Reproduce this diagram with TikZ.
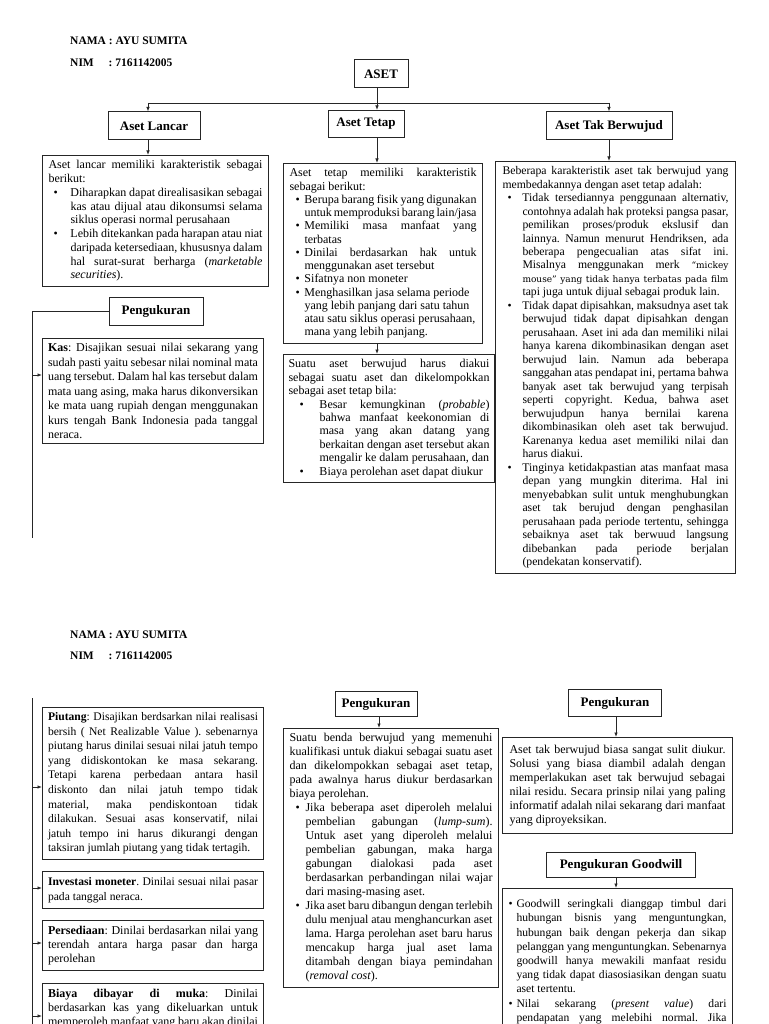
\documentclass[tikz,border=0pt]{standalone}
\usepackage{fontspec}
\setmainfont{Liberation Serif}
\newfontfamily\mkfont{DejaVu Serif}
\usetikzlibrary{arrows.meta}
\hyphenpenalty=10000
\exhyphenpenalty=10000
\tolerance=10000
\hbadness=10000
\frenchspacing
\newcommand\bitem[2]{\par\hangindent=#1\hangafter=0\noindent\llap{\makebox[\dimexpr#1-#2\relax][l]{\textbullet}}\ignorespaces}
\newcommand\mk{\mkfont\fontsize{9}{13.48}\selectfont}
\newcommand\fs[2]{\fontsize{#1}{#2}\selectfont\spaceskip=.25em plus .3em minus .09em\relax}
\tikzset{
  tb/.style={draw=black!85, line width=1pt, anchor=north west, inner xsep=6pt, inner ysep=5pt, align=justify, font=\fs{12}{14}},
  hd/.style={draw=black!85, line width=1pt, inner sep=0pt, font=\fontsize{13}{15}\selectfont\bfseries},
  lbl/.style={anchor=west, inner sep=0pt, font=\fontsize{11.5}{13}\selectfont\bfseries},
  ln/.style={line width=0.8pt, draw=black!85},
  ar/.style={ln, -{Latex[length=4.5pt,width=3.5pt]}}
}
\begin{document}
\begin{tikzpicture}[x=1pt,y=-1pt]
\useasboundingbox (0,0) rectangle (768,1024);
\clip (0,0) rectangle (768,1024);
\fill[white] (0,0) rectangle (768,1024);

% ---------- page 1 ----------
\node[lbl] (nama1) at (70,41) {NAMA : AYU SUMITA};
\node[lbl] (nim1) at (70,63) {NIM};
\node[lbl] (nimv1) at (108.5,63) {: 7161142005};

\node[hd, minimum width=54pt, minimum height=28pt] (aset) at (381,74) {ASET};
\node[hd, minimum width=92pt, minimum height=28pt] (hlancar) at (154,126) {Aset Lancar};
\node[hd, minimum width=76pt, minimum height=27pt] (htetap) at (366,124) {Aset Tetap};
\node[hd, minimum width=126pt, minimum height=28pt] (htakb) at (609,126) {Aset Tak Berwujud};

\coordinate (jm) at (377,103);
\coordinate (jl) at (148,103);
\coordinate (jr) at (609,103);
\draw[ln] (jl) -- (jr);
\draw[ar] (jm |- aset.south) -- (jm |- htetap.north);
\draw[ar] (jl) -- (jl |- hlancar.north);
\draw[ar] (jr) -- (jr |- htakb.north);

\node[tb, text width=214pt, font=\fs{12}{13.75}] (lancar) at (42,155) {Aset lancar memiliki karakteristik sebagai\linebreak berikut:%
\bitem{22pt}{5pt}Diharapkan dapat direalisasikan sebagai\linebreak kas atau dijual atau dikonsumsi selama\linebreak siklus operasi normal perusahaan%
\bitem{22pt}{5pt}Lebih ditekankan pada harapan atau niat\linebreak daripada ketersediaan, khususnya dalam\linebreak hal surat-surat berharga (\textit{marketable\linebreak securities}).\par};

\node[tb, text width=187pt, font=\fs{12}{13.25}] (tetap1) at (283,163) {Aset tetap memiliki karakteristik\linebreak sebagai berikut:%
\bitem{15pt}{6pt}Berupa barang fisik yang digunakan\linebreak untuk memproduksi barang lain/jasa%
\bitem{15pt}{6pt}Memiliki masa manfaat yang\linebreak terbatas%
\bitem{15pt}{6pt}Dinilai berdasarkan hak untuk\linebreak menggunakan aset tersebut%
\bitem{15pt}{6pt}Sifatnya non moneter%
\bitem{15pt}{6pt}Menghasilkan jasa selama periode\\yang lebih panjang dari satu tahun\\atau satu siklus operasi perusahaan,\\mana yang lebih panjang.\par};

\node[tb, inner xsep=5pt, text width=201pt, font=\fs{12}{13.4}] (tetap2) at (283,354) {Suatu aset berwujud harus diakui\linebreak sebagai suatu aset dan dikelompokkan\linebreak sebagai aset tetap bila:%
\bitem{31pt}{11pt}Besar kemungkinan (\textit{probable})\linebreak bahwa manfaat keekonomian di\linebreak masa yang akan datang yang\linebreak berkaitan dengan aset tersebut akan\linebreak mengalir ke dalam perusahaan, dan%
\bitem{31pt}{11pt}Biaya perolehan aset dapat diukur\par};

\node[tb, inner xsep=7pt, text width=226pt, font=\fs{11.7}{13.48}] (takb) at (495,161) {Beberapa karakteristik aset tak berwujud yang\linebreak membedakannya dengan aset tetap adalah:%
\bitem{20pt}{5pt}Tidak tersediannya penggunaan alternativ,\linebreak contohnya adalah hak proteksi pangsa pasar,\linebreak pemilikan proses/produk ekslusif dan\linebreak lainnya. Namun menurut Hendriksen, ada\linebreak beberapa pengecualian atas sifat ini.\linebreak Misalnya menggunakan merk {\mk “mickey\linebreak mouse” yang tidak hanya terbatas pada film}\linebreak tapi juga untuk dijual sebagai produk lain.%
\bitem{20pt}{5pt}Tidak dapat dipisahkan, maksudnya aset tak\linebreak berwujud tidak dapat dipisahkan dengan\linebreak perusahaan. Aset ini ada dan memiliki nilai\linebreak hanya karena dikombinasikan dengan aset\linebreak berwujud lain. Namun ada beberapa\linebreak sanggahan atas pendapat ini, pertama bahwa\linebreak banyak aset tak berwujud yang terpisah\linebreak seperti copyright. Kedua, bahwa aset\linebreak berwujudpun hanya bernilai karena\linebreak dikombinasikan oleh aset tak berwujud.\linebreak Karenanya kedua aset memiliki nilai dan\linebreak harus diakui.%
\bitem{20pt}{5pt}Tinginya ketidakpastian atas manfaat masa\linebreak depan yang mungkin diterima. Hal ini\linebreak menyebabkan sulit untuk menghubungkan\linebreak aset tak berujud dengan penghasilan\linebreak perusahaan pada periode tertentu, sehingga\linebreak sebaiknya aset tak berwuud langsung\linebreak dibebankan pada periode berjalan\linebreak (pendekatan konservatif).\par};

\coordinate (al) at (148,140);
\draw[ar] (hlancar.south -| al) -- (al |- lancar.north);
\draw[ar] (htetap.south -| jm) -- (jm |- tetap1.north);
\draw[ar] (tetap1.south -| jm) -- (jm |- tetap2.north);
\draw[ar] (htakb.south) -- (htakb.south |- takb.north);

\node[hd, minimum width=94pt, minimum height=28pt] (hpeng1) at (156,311) {Pengukuran};
\node[tb, inner xsep=5.5pt, text width=210pt, font=\fs{12}{14.5}] (kas) at (42,338) {\textbf{Kas}: Disajikan sesuai nilai sekarang yang\linebreak sudah pasti yaitu sebesar nilai nominal mata\linebreak uang tersebut. Dalam hal kas tersebut dalam\linebreak mata uang asing, maka harus dikonversikan\linebreak ke mata uang rupiah dengan menggunakan\linebreak kurs tengah Bank Indonesia pada tanggal\linebreak neraca.};
\coordinate (v1t) at (32,311);
\coordinate (v1b) at (32,538);
\coordinate (akas) at (32,375);
\draw[ln] (hpeng1.west) -- (v1t) -- (v1b);
\draw[ar] (akas) -- (akas -| kas.west);

% ---------- page 2 ----------
\node[lbl] (nama2) at (70,635) {NAMA : AYU SUMITA};
\node[lbl] (nim2) at (70,656) {NIM};
\node[lbl] (nimv2) at (108.5,656) {: 7161142005};

\node[tb, inner xsep=5.5pt, text width=210pt, font=\fs{11.6}{14.6}] (piutang) at (42,707) {\textbf{Piutang}: Disajikan berdsarkan nilai realisasi\linebreak bersih ( Net Realizable Value ). sebenarnya\linebreak piutang harus dinilai sesuai nilai jatuh tempo\linebreak yang didiskontokan ke masa sekarang.\linebreak Tetapi karena perbedaan antara hasil\linebreak diskonto dan nilai jatuh tempo tidak\linebreak material, maka pendiskontoan tidak\linebreak dilakukan. Sesuai asas konservatif, nilai\linebreak jatuh tempo ini harus dikurangi dengan\linebreak taksiran jumlah piutang yang tidak tertagih.};
\node[tb, inner xsep=5.5pt, inner ysep=6pt, text width=210pt, font=\fs{11.6}{14.5}] (invest) at (42,871) {\textbf{Investasi moneter}. Dinilai sesuai nilai pasar\linebreak pada tanggal neraca.};
\node[tb, inner xsep=5.5pt, inner ysep=5.5pt, text width=210pt, font=\fs{12}{14}] (sedia) at (42,920) {\textbf{Persediaan}: Dinilai berdasarkan nilai yang\linebreak terendah antara harga pasar dan harga\linebreak perolehan};
\node[tb, inner xsep=5.5pt, inner ysep=5.5pt, text width=210pt, font=\fs{12}{14}] (biaya) at (42,983) {\textbf{Biaya dibayar di muka}: Dinilai\linebreak berdasarkan kas yang dikeluarkan untuk\linebreak memperoleh manfaat yang baru akan dinilai\par\vspace*{20pt}};

\coordinate (v2t) at (32,698);
\coordinate (v2b) at (32,1030);
\draw[ln] (v2t) -- (v2b);
\coordinate (ap) at (32,787);
\coordinate (ai) at (32,888);
\coordinate (as) at (32,943);
\coordinate (ab) at (32,1016);
\draw[ar] (ap) -- (ap -| piutang.west);
\draw[ar] (ai) -- (ai -| invest.west);
\draw[ar] (as) -- (as -| sedia.west);
\draw[ar] (ab) -- (ab -| biaya.west);

\node[hd, minimum width=82pt, minimum height=25pt] (hpeng2) at (376,704) {Pengukuran};
\node[tb, text width=203pt, font=\fs{12}{14}] (ukur2) at (283,728) {Suatu benda berwujud yang memenuhi\linebreak kualifikasi untuk diakui sebagai suatu aset\linebreak dan dikelompokkan sebagai aset tetap,\linebreak pada awalnya harus diukur berdasarkan\linebreak biaya perolehan.%
\bitem{16pt}{6pt}Jika beberapa aset diperoleh melalui\linebreak pembelian gabungan (\textit{lump-sum}).\linebreak Untuk aset yang diperoleh melalui\linebreak pembelian gabungan, maka harga\linebreak gabungan dialokasi pada aset\linebreak berdasarkan perbandingan nilai wajar\linebreak dari masing-masing aset.%
\bitem{16pt}{6pt}Jika aset baru dibangun dengan terlebih\linebreak dulu menjual atau menghancurkan aset\linebreak lama. Harga perolehan aset baru harus\linebreak mencakup harga jual aset lama\linebreak ditambah dengan biaya pemindahan\linebreak (\textit{removal cost}).\par};
\coordinate (am) at (379,716);
\draw[ar] (hpeng2.south -| am) -- (am |- ukur2.north);

\node[hd, minimum width=93pt, minimum height=27pt] (hpeng3) at (615,703) {Pengukuran};
\node[tb, inner xsep=7pt, inner ysep=7.5pt, text width=216pt, font=\fs{12}{14}] (ukur3) at (502,737) {Aset tak berwujud biasa sangat sulit diukur.\linebreak Solusi yang biasa diambil adalah dengan\linebreak memperlakukan aset tak berwujud sebagai\linebreak nilai residu. Secara prinsip nilai yang paling\linebreak informatif adalah nilai sekarang dari manfaat\linebreak yang diproyeksikan.};
\coordinate (ar3) at (616,716);
\draw[ar] (hpeng3.south -| ar3) -- (ar3 |- ukur3.north);

\node[hd, minimum width=149pt, minimum height=25pt] (hgood) at (621,865) {Pengukuran Goodwill};
\node[tb, text width=218pt, font=\fs{11.6}{14.2}] (good) at (502,888) {%
\bitem{8pt}{0pt}Goodwill seringkali dianggap timbul dari\linebreak hubungan bisnis yang menguntungkan,\linebreak hubungan baik dengan pekerja dan sikap\linebreak pelanggan yang menguntungkan. Sebenarnya\linebreak goodwill hanya mewakili manfaat residu\linebreak yang tidak dapat diasosiasikan dengan suatu\linebreak aset tertentu.%
\bitem{8pt}{0pt}Nilai sekarang (\textit{present value}) dari\linebreak pendapatan yang melebihi normal. Jika\linebreak Perusahaan berhasil memperoleh pendapatan\par\vspace*{20pt}};
\coordinate (ag) at (616,877);
\draw[ar] (hgood.south -| ag) -- (ag |- good.north);
\end{tikzpicture}
\end{document}
